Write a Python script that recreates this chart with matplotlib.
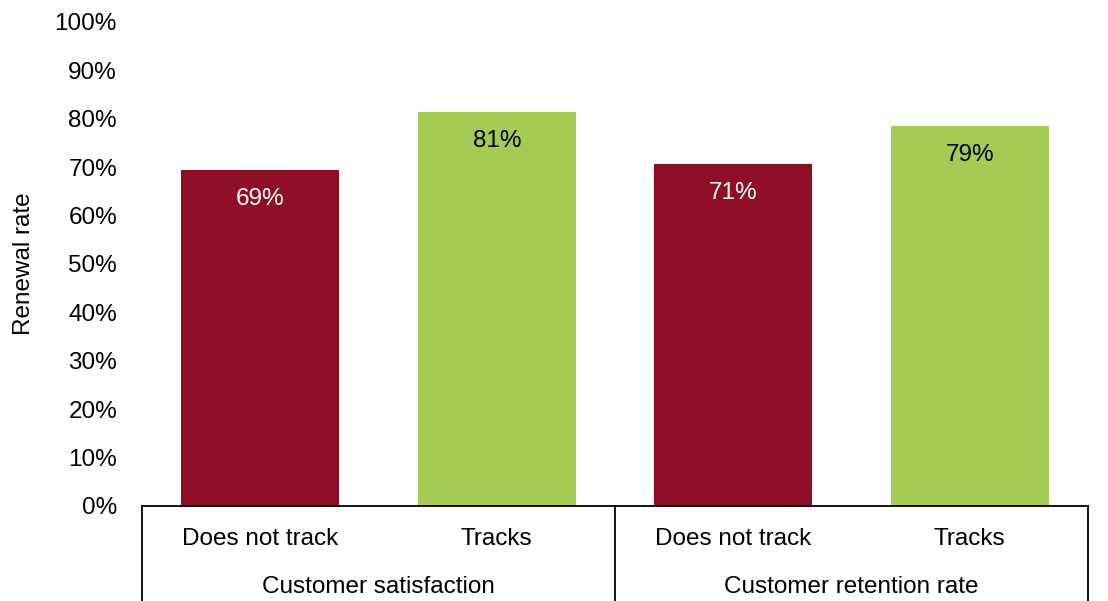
import matplotlib
matplotlib.use("Agg")
import matplotlib.pyplot as plt
from matplotlib.ticker import PercentFormatter

plt.rcParams['font.family'] = ['Liberation Sans', 'DejaVu Sans']

groups = ['Customer satisfaction', 'Customer retention rate']
subcats = ['Does not track', 'Tracks', 'Does not track', 'Tracks']
values = [69.4, 81.4, 70.7, 78.5]
labels = ['69%', '81%', '71%', '79%']
colors = ['#8E0E25', '#A6CB55', '#8E0E25', '#A6CB55']
label_colors = ['white', 'black', 'white', 'black']

FS = 17.5

fig = plt.figure(figsize=(11.08, 6.01), dpi=100)
ax = fig.add_axes([142 / 1108, (601 - 506) / 601, (1088 - 142) / 1108, (506 - 22) / 601])

x = list(range(len(values)))
bars = ax.bar(x, values, width=0.67, color=colors)
for b, lab, c in zip(bars, labels, label_colors):
    ax.annotate(lab, (b.get_x() + b.get_width() / 2, b.get_height()),
                xytext=(0, -29), textcoords='offset pixels',
                ha='center', va='center', color=c, fontsize=FS)

ax.set_xlim(-0.5, len(values) - 0.5)
ax.set_ylim(0, 100)
ax.set_yticks(range(0, 101, 10))
ax.yaxis.set_major_formatter(PercentFormatter(decimals=0))
ax.tick_params(axis='y', length=0, pad=18, labelsize=FS)
ax.tick_params(axis='x', length=0, labelbottom=False)
for s in ['top', 'right', 'left']:
    ax.spines[s].set_visible(False)
ax.spines['bottom'].set_linewidth(1.3)
ax.set_ylabel('Renewal rate', fontsize=FS, labelpad=14)

# two-level category axis
tr = ax.get_xaxis_transform()
depth = -(601 - 506) / 484
for xv in [-0.5, 1.5, 3.5]:
    ax.plot([xv, xv], [0, depth], color='black', lw=1.3, transform=tr, clip_on=False)
for xi, s in zip(x, subcats):
    ax.text(xi, -33 / 484, s, transform=tr, ha='center', va='center', fontsize=FS)
for gi, g in enumerate(groups):
    ax.text(gi * 2 + 0.5, -81 / 484, g, transform=tr, ha='center', va='center', fontsize=FS)

fig.savefig('out.png', dpi=100)
